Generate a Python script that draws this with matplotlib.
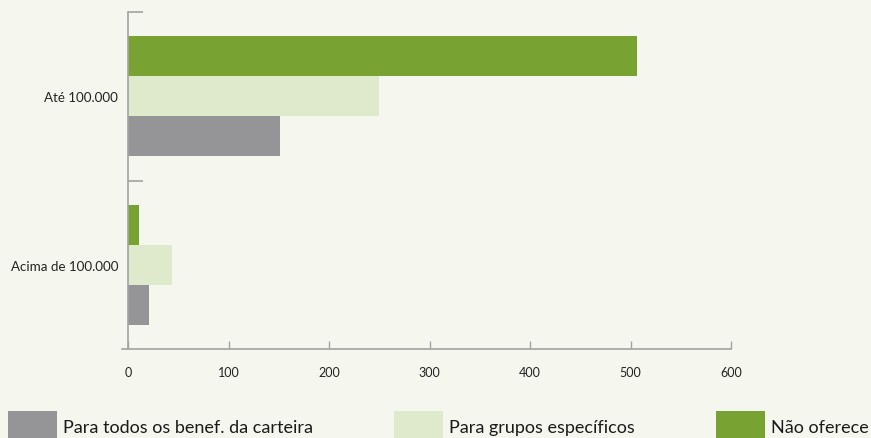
import matplotlib.pyplot as plt
from matplotlib.patches import Patch
import numpy as np

# data
categories = ["Acima de 100.000", "Até 100.000"]
series = ["Para todos os benef. da carteira", "Para grupos específicos", "Não oferece"]
todos = [21, 151]
grupos = [44, 250]
nao_oferece = [11, 506]
xticks = [0, 100, 200, 300, 400, 500, 600]

colors = ["#959598", "#dfe9cc", "#78a232"]
bg = "#f5f7ef"
axis_col = "#a3a3a3"

plt.rcParams['font.family'] = ['Lato', 'DejaVu Sans']

fig = plt.figure(figsize=(8.71, 4.39), dpi=100, facecolor=bg)
ax = fig.add_axes([122 / 871, 89 / 439, 609 / 871, 337 / 439], facecolor=bg)

y = np.arange(len(categories)) + 0.5
h = 0.237
for vals, off, c in zip([todos, grupos, nao_oferece], [-h, 0, h], colors):
    ax.barh(y + off, vals, height=h, color=c, linewidth=0)

ax.set_xlim(-6, 600)
ax.set_ylim(0, 2)
ax.spines['left'].set_position(('data', 0))
for s in ['top', 'right']:
    ax.spines[s].set_visible(False)
for s in ['left', 'bottom']:
    ax.spines[s].set_color(axis_col)
    ax.spines[s].set_linewidth(1.2)

ax.set_xticks(xticks)
ax.tick_params(axis='x', direction='in', length=6, width=1, color=axis_col,
               pad=12, labelsize=9, labelcolor='#222222')

ax.set_yticks([1, 2])
ax.set_yticklabels([])
ax.set_yticks(y, minor=True)
ax.set_yticklabels(categories, minor=True)
ax.tick_params(axis='y', which='major', direction='in', length=11, width=1.2, color=axis_col)
ax.tick_params(axis='y', which='minor', length=0, pad=7, labelsize=9.6, labelcolor='#222222')

handles = [Patch(facecolor=c, edgecolor='none') for c in colors]
fig.legend(handles, series, loc='center left', bbox_to_anchor=(8 / 871, 1 - 427 / 439),
           ncol=3, frameon=False, fontsize=13, borderpad=0, borderaxespad=0,
           handlelength=2.71, handleheight=2.1, handletextpad=0.33, columnspacing=4.5,
           labelcolor='#1a1a1a')

fig.savefig("out.png", dpi=100, facecolor=bg)
